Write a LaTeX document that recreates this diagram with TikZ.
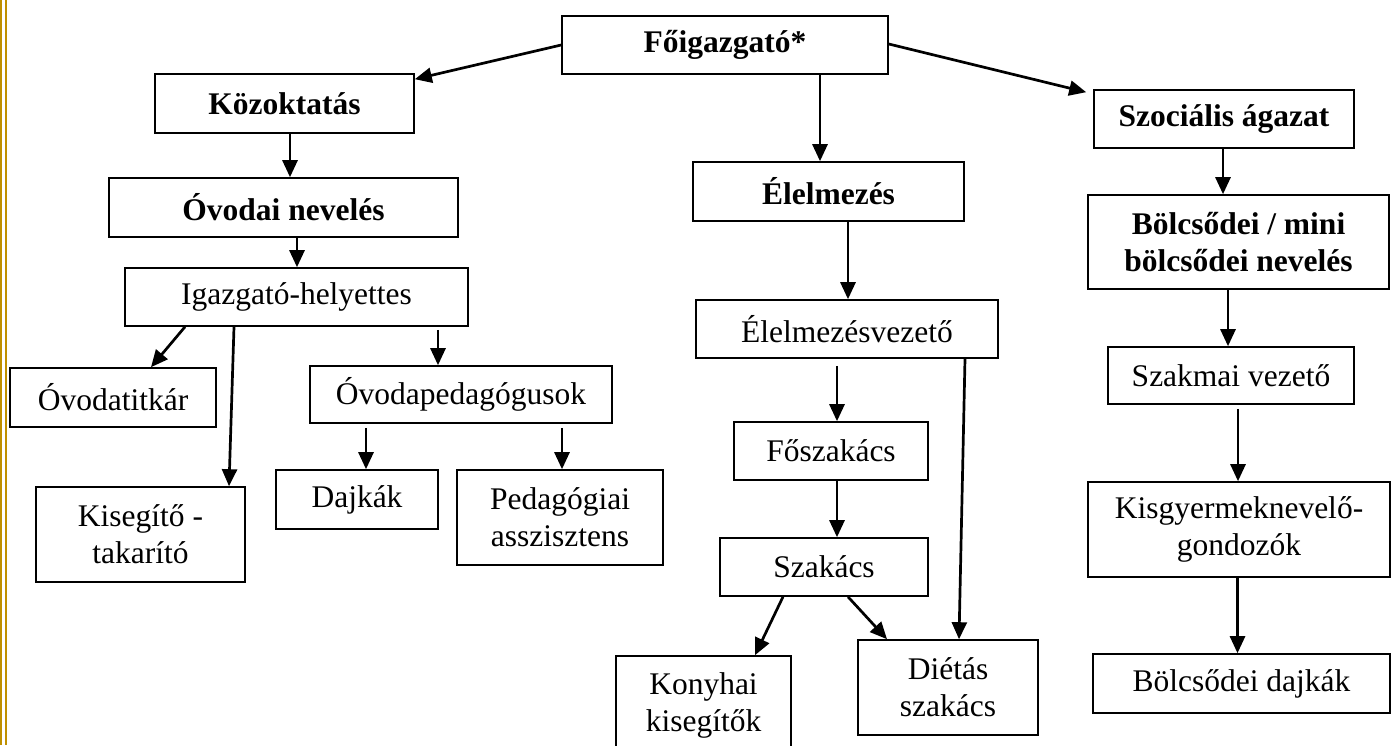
\documentclass[tikz,border=0pt]{standalone}
\usepackage{fontspec}
\setmainfont{Liberation Serif}
\usetikzlibrary{arrows.meta}
\definecolor{gold}{RGB}{191,144,0}

\begin{document}
\begin{tikzpicture}[
        x = 1pt, y = -1pt,
        box/.style = {
                draw, line width = 1.6pt, inner sep = 0pt, align = center,
                font = \fontsize{31.5}{37}\selectfont
            },
        bbox/.style = {
                box, font = \fontsize{31.5}{37}\selectfont\bfseries
            },
        sz/.style 2 args = {minimum width = #1pt, minimum height = #2pt},
        arr/.style = {-{Triangle[length=17pt,width=15pt]}, line width = 2.7pt}
    ]

    \useasboundingbox (0,0) rectangle (1393,745);
    \fill[gold] (0,0) rectangle (2,745);
    \fill[gold] (5,0) rectangle (7,745);

    % top
    \node[bbox, sz={326}{58}] (fo) at (725,45) {Főigazgató*};

    % kozoktatas
    \node[bbox, sz={259}{59}] (kozok)  at (284.5,103.5) {Közoktatás};
    \node[bbox, sz={349}{59}] (ovodai) at (283.5,207.5) {Óvodai nevelés};
    \node[box,  sz={343}{58}] (igh)    at (296.5,297)   {Igazgató-helyettes};
    \node[box,  sz={206}{59}] (titkar) at (113,397.5)   {Óvodatitkár};
    \node[box,  sz={209}{95}] (kiseg)  at (140.5,534.5) {Kisegítő -\\takarító};
    \node[box,  sz={302}{57}] (ovped)  at (461,394.5)   {Óvodapedagógusok};
    \node[box,  sz={162}{59}] (dajka)  at (357,499.5)   {Dajkák};
    \node[box,  sz={206}{95}] (pedas)  at (560,517.5)   {Pedagógiai\\asszisztens};

    % elelmezes
    \node[bbox, sz={271}{59}] (elm)     at (828.5,191.5) {Élelmezés};
    \node[box,  sz={302}{58}] (elmv)    at (847,329)     {Élelmezésvezető};
    \node[box,  sz={194}{58}] (foszak)  at (831,451)     {Főszakács};
    \node[box,  sz={208}{58}] (szakacs) at (824,567)     {Szakács};
    \node[box,  sz={175}{98}] (konyha)  at (703.5,705)   {Konyhai\\kisegítők};
    \node[box,  sz={180}{95}] (dietas)  at (948,687.5)   {Diétás\\szakács};

    % szocialis
    \node[bbox, sz={260}{58}] (szoc)   at (1224,119)    {Szociális ágazat};
    \node[bbox, sz={301}{94}] (bolcs)  at (1238.5,242)  {Bölcsődei / mini\\bölcsődei nevelés};
    \node[box,  sz={246}{57}] (szakm)  at (1231,375.5)  {Szakmai vezető};
    \node[box,  sz={302}{95}] (kisgy)  at (1239,529.5)  {Kisgyermeknevelő-\\gondozók};
    \node[box,  sz={297}{59}] (bdajka) at (1241.5,683.5) {Bölcsődei dajkák};

    % connectors
    \draw[arr] (fo.west) -- ([yshift=-6pt]kozok.north east);
    \draw[arr] ([yshift=1pt]fo.east) -- ([xshift=-7pt,yshift=-3pt]szoc.north west);
    \draw[arr] ([xshift=95pt]fo.south) -- ([xshift=95pt]fo.south |- elm.north);

    \draw[arr] ([xshift=5.5pt]kozok.south) -- ([xshift=5.5pt]kozok.south |- ovodai.north);
    \draw[arr] ([xshift=13.5pt]ovodai.south) -- ([xshift=13.5pt]ovodai.south |- igh.north);
    \draw[arr] ([xshift=-111.5pt]igh.south) -- ([xshift=38pt]titkar.north);
    \draw[arr] ([xshift=-62.5pt]igh.south) -- ([xshift=88.5pt]kiseg.north);
    \draw[arr] ([xshift=141.5pt,yshift=-3pt]igh.south) -- ([xshift=141.5pt]igh.south |- ovped.north);
    \draw[arr] ([xshift=-95pt,yshift=-4pt]ovped.south) -- ([xshift=-95pt]ovped.south |- dajka.north);
    \draw[arr] ([xshift=101pt,yshift=-4pt]ovped.south) -- ([xshift=101pt]ovped.south |- pedas.north);

    \draw[arr] ([xshift=19.5pt]elm.south) -- ([xshift=19.5pt]elm.south |- elmv.north);
    \draw[arr] ([xshift=-10pt,yshift=-7pt]elmv.south) -- ([xshift=-10pt]elmv.south |- foszak.north);
    \draw[arr] ([xshift=118pt]elmv.south) -- ([xshift=11pt]dietas.north);
    \draw[arr] ([xshift=6pt]foszak.south) -- ([xshift=6pt]foszak.south |- szakacs.north);
    \draw[arr] ([xshift=-41pt]szakacs.south) -- ([xshift=51.5pt]konyha.north);
    \draw[arr] ([xshift=24pt]szakacs.south) -- ([xshift=-61pt]dietas.north);

    \draw[arr] ([xshift=-1pt]szoc.south) -- ([xshift=-1pt]szoc.south |- bolcs.north);
    \draw[arr] ([xshift=-10.5pt]bolcs.south) -- ([xshift=-10.5pt]bolcs.south |- szakm.north);
    \draw[arr] ([xshift=7pt,yshift=-4pt]szakm.south) -- ([xshift=7pt]szakm.south |- kisgy.north);
    \draw[arr] ([xshift=-1.5pt]kisgy.south) -- ([xshift=-1.5pt]kisgy.south |- bdajka.north);

\end{tikzpicture}
\end{document}
